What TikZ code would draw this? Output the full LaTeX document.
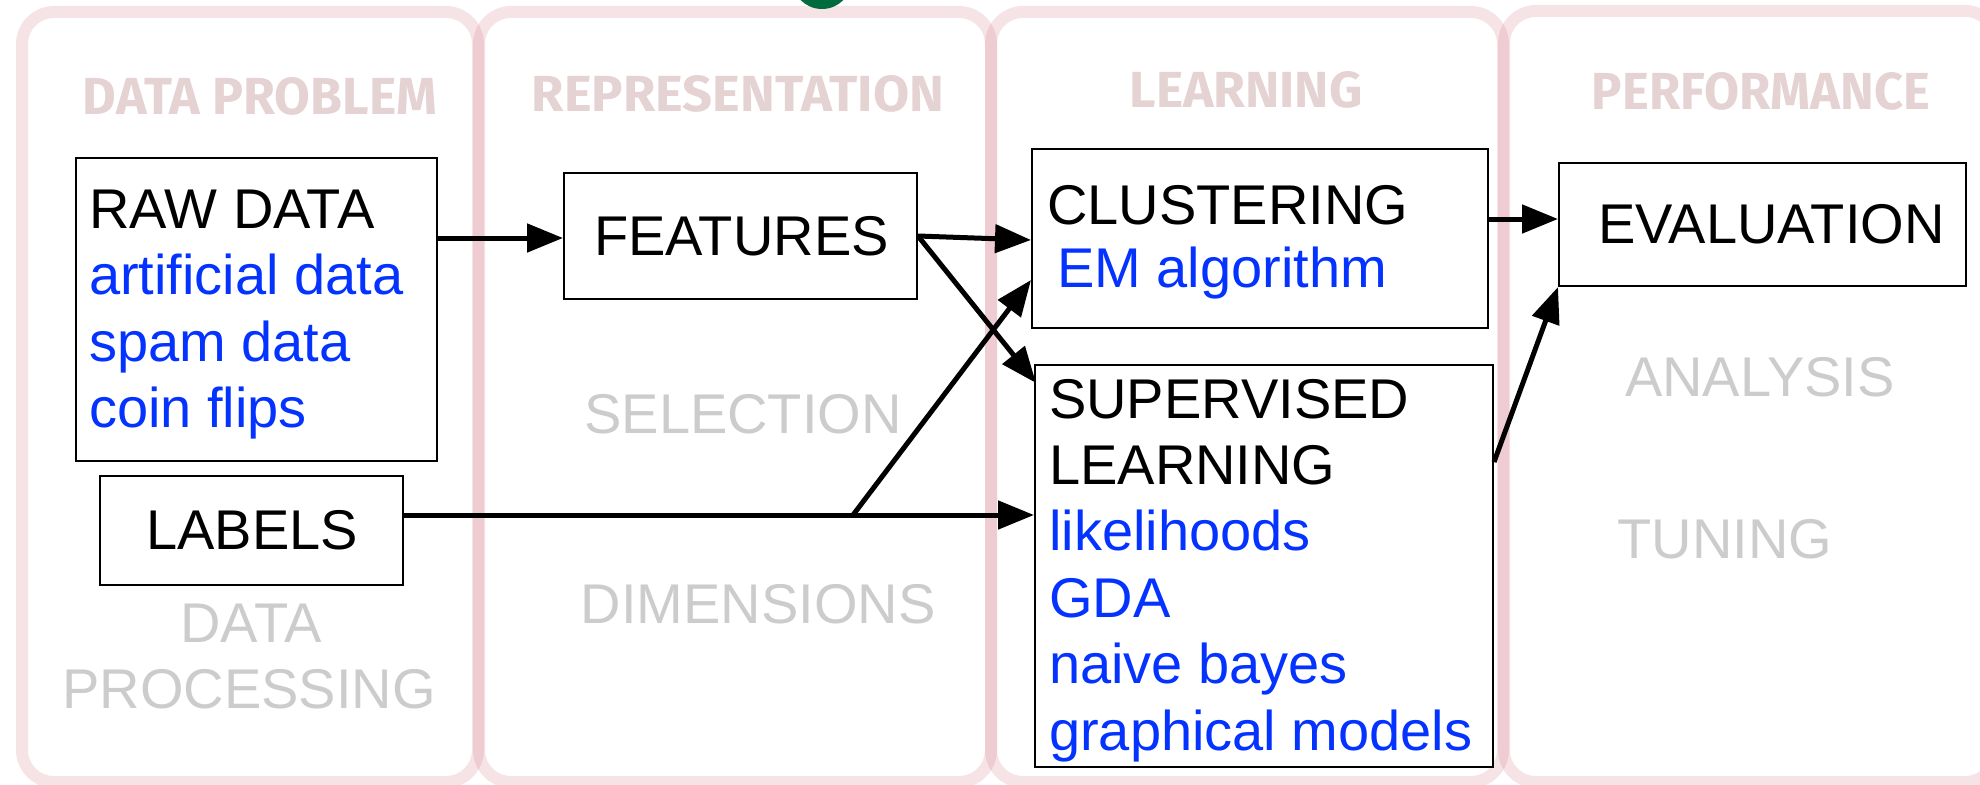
\documentclass[tikz,border=0pt]{standalone}
\usepackage{fontspec}
\setmainfont{Liberation Sans}
\newfontfamily\hdfont{Fira Sans}
\usepackage{graphicx}
\usetikzlibrary{arrows.meta,calc}
\definecolor{pk}{RGB}{205,100,115}
\definecolor{hd}{RGB}{229,210,210}
\definecolor{bl}{RGB}{4,51,255}
\definecolor{gr}{RGB}{204,204,204}
\definecolor{dg}{RGB}{0,107,63}
\begin{document}
\begin{tikzpicture}[x=1pt,y=-1pt,
  panel/.style={draw=pk, draw opacity=0.18, line width=12pt, rounded corners=32pt},
  box/.style={draw=black, line width=2pt, rectangle, inner sep=0pt, anchor=north west},
  txt/.style={font=\fontsize{56}{66}\selectfont, anchor=base west, inner sep=0pt},
  blt/.style={txt, text=bl},
  grt/.style={font=\fontsize{56}{66}\selectfont, text=gr, anchor=base, inner sep=0pt},
  hdr/.style={text=hd, inner sep=0pt, font=\hdfont\bfseries},
  arr/.style={-{Triangle[length=36pt,width=28pt]}, line width=5pt}
]
\useasboundingbox (0,0) rectangle (1980,784);
\begin{scope}
\clip (0,0) rectangle (1980,784);
\draw[panel] (22,12) rectangle (478,782);
\draw[panel] (479,12) rectangle (991,782);
\draw[panel] (991,12) rectangle (1503,782);
\draw[panel] (1504,11) rectangle (1997,782);
\fill[dg] (822,-21) circle (30);
\end{scope}

% headers
\node[hdr] (h1) at (260,96.5) {\resizebox{354pt}{37pt}{DATA PROBLEM}};
\node[hdr] (h2) at (738,94) {\resizebox{412pt}{36pt}{REPRESENTATION}};
\node[hdr] (h3) at (1246,90) {\resizebox{233pt}{36pt}{LEARNING}};
\node[hdr] (h4) at (1761,91.5) {\resizebox{338pt}{37pt}{PERFORMANCE}};

% boxes
\node[box, minimum width=361pt, minimum height=303pt] (raw) at (75,157) {};
\node[box, minimum width=303pt, minimum height=109pt] (labels) at (99,475) {};
\node[box, minimum width=353pt, minimum height=126pt] (features) at (563,172) {};
\node[box, minimum width=456pt, minimum height=179pt] (clustering) at (1031,148) {};
\node[box, minimum width=458pt, minimum height=402pt] (supervised) at (1034,364) {};
\node[box, minimum width=407pt, minimum height=123pt] (evaluation) at (1558,162) {};

% box texts
\node[txt] (t1) at (89,228) {RAW DATA};
\node[blt] (t2) at (89,294) {artificial data};
\node[blt] (t3) at (89,361) {spam data};
\node[blt] (t4) at (89,427) {coin flips};
\node[txt] (t5) at (146,549) {LABELS};
\node[txt] (t6) at (594,255) {FEATURES};
\node[txt] (t7) at (1047,224) {CLUSTERING};
\node[blt] (t8) at (1057,287) {EM algorithm};
\node[txt] (t9) at (1598,243) {EVALUATION};
\node[txt] (t10) at (1049,418) {SUPERVISED};
\node[txt] (t11) at (1049,484) {LEARNING};
\node[blt] (t12) at (1049,550) {likelihoods};
\node[blt] (t13) at (1049,617) {GDA};
\node[blt] (t14) at (1049,683) {naive bayes};
\node[blt] (t15) at (1049,750) {graphical models};

% gray texts
\node[grt] (g1) at (743,433) {SELECTION};
\node[grt] (g2) at (758,623) {DIMENSIONS};
\node[grt] (g3) at (251,642) {DATA};
\node[grt] (g4) at (249,708) {PROCESSING};
\node[grt] (g5) at (1760,396) {ANALYSIS};
\node[grt] (g6) at (1725,558) {TUNING};

% connectors
\draw[arr] (raw.north east |- 0,238) -- (features.west |- 0,238);
\draw[arr] (features.east) -- (clustering.west |- 0,240);
\draw[arr] (features.east) -- ($(supervised.north west)+(2,19)$);
\coordinate (lj) at (853,515);
\draw[arr] (labels.east |- lj) -- (supervised.west |- lj);
\draw[arr] (lj) -- ($(clustering.south west)+(0,-49)$);
\draw[arr] (clustering.east |- 0,219) -- (evaluation.west |- 0,219);
\draw[arr] ($(supervised.north east)+(0,98)$) -- (evaluation.south west);
\end{tikzpicture}
\end{document}
